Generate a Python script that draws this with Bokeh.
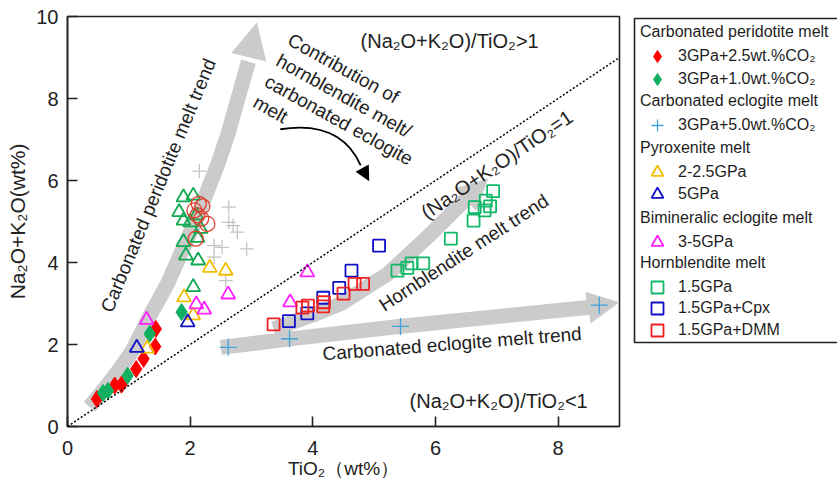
from bokeh.plotting import figure
from bokeh.layouts import row
from bokeh.models import (Legend, LegendItem, Slope, Arrow, NormalHead,
                          Range1d, FixedTicker)
from bokeh.core.properties import value
from bokeh.embed import file_html
from bokeh.resources import INLINE

FONT = "Liberation Sans"

# ---------------- data (TiO2 wt%, Na2O+K2O wt%) ----------------
# Carbonated peridotite melt
perid_25_x = [0.48, 0.77, 0.88, 1.12, 1.24, 1.43, 1.44]
perid_25_y = [0.67, 1.00, 1.02, 1.40, 1.65, 1.95, 2.38]
perid_10_x = [0.58, 0.66, 0.98, 1.34, 1.86]
perid_10_y = [0.82, 0.87, 1.24, 2.26, 2.79]
# Carbonated eclogite melt
eclog_x = [2.62, 3.62, 5.43, 8.67]
eclog_y = [1.93, 2.14, 2.44, 2.96]
# Pyroxenite melt
pyx_lo_x = [1.30, 1.90, 2.05, 2.32, 2.58]
pyx_lo_y = [1.90, 3.15, 2.71, 3.87, 3.80]
pyx_hi_x = [1.13, 1.96]
pyx_hi_y = [1.92, 2.54]
# Bimineralic eclogite melt
bimin_x = [1.29, 2.10, 2.23, 2.62, 3.91, 3.63]
bimin_y = [2.60, 2.98, 2.85, 3.22, 3.76, 3.03]
# Hornblendite melt
hbl_x = [5.38, 5.54, 5.61, 5.80, 6.25, 6.62, 6.64, 6.80, 6.89, 6.94, 6.82]
hbl_y = [3.80, 3.87, 3.98, 3.98, 4.58, 5.02, 5.35, 5.27, 5.37, 5.74, 5.51]
hbl_cpx_x = [3.61, 3.91, 4.17, 4.43, 4.63, 5.08]
hbl_cpx_y = [2.57, 2.76, 3.14, 3.38, 3.80, 4.41]
hbl_dmm_x = [3.36, 3.83, 3.92, 4.17, 4.18, 4.50, 4.68, 4.82]
hbl_dmm_y = [2.49, 2.90, 2.95, 2.93, 3.03, 3.24, 3.48, 3.48]
# other data (not in visible legend)
gtri_x = [1.89, 2.05, 1.82, 1.89, 2.00, 2.17, 2.12, 1.89, 1.93, 2.13, 2.05, 2.10]
gtri_y = [5.59, 5.63, 5.23, 5.02, 4.98, 4.82, 4.60, 4.50, 4.17, 4.05, 3.40, 5.15]
rcirc_x = [2.14, 2.07, 2.12, 2.18, 2.28, 2.09, 2.20]
rcirc_y = [5.43, 5.27, 5.15, 5.07, 4.94, 4.58, 5.37]
gcross_x = [2.15, 2.63, 2.63, 2.70, 2.77, 2.92, 2.52, 2.39, 2.58, 2.39]
gcross_y = [6.23, 5.35, 4.98, 4.90, 4.74, 4.33, 4.37, 4.13, 3.56, 4.41]

x_ticks = [0, 2, 4, 6, 8]
y_ticks = [0, 2, 4, 6, 8, 10]

# ---------------- trend bands (annotation paths) ----------------
perid_band_x = [0.36, 0.62, 0.85, 1.06, 1.33, 1.63, 1.87, 2.08, 2.27, 2.45, 2.62, 2.77, 2.95]
perid_band_y = [0.48, 0.95, 1.40, 1.85, 2.67, 3.48, 4.29, 5.00, 5.70, 6.40, 7.15, 7.95, 8.90]
perid_head = (2.93, 8.85, 3.09, 9.86)
hbl_band_x = [3.36, 4.00, 4.45, 5.22, 5.87, 6.55]
hbl_band_y = [2.38, 2.72, 2.99, 3.72, 4.62, 5.63]
hbl_head = (6.45, 5.48, 6.86, 6.05)
ecl_band_x = [2.50, 3.60, 5.40, 7.00, 8.60]
ecl_band_y = [1.93, 2.13, 2.44, 2.68, 2.92]
ecl_head = (8.45, 2.89, 9.00, 3.03)
curve_pts = (3.47, 7.25, 4.45, 7.48, 4.78, 6.37)
curve_head = (4.78, 6.37, 4.92, 5.98)

BAND = "#cbcbcb"
TXT = "#1e1e1e"

STY = {
    "gcross": dict(marker="cross", size=14, line_color="#c4c4c4", line_width=1.3),
    "gtri": dict(marker="triangle", size=14, fill_alpha=0, line_color="#10a850", line_width=1.8),
    "rcirc": dict(marker="circle", size=15, fill_alpha=0, line_color="#e0402e", line_width=1.3),
    "p25": dict(marker="diamond", size=17, fill_color="#ff0000", line_color="#ff0000"),
    "p10": dict(marker="diamond", size=17, fill_color="#10b060", line_color="#10b060"),
    "ecl": dict(marker="cross", size=17, line_color="#3fa3d8", line_width=1.3),
    "pyl": dict(marker="triangle", size=14, fill_alpha=0, line_color="#f2be00", line_width=1.8),
    "pyh": dict(marker="triangle", size=14, fill_alpha=0, line_color="#1010c8", line_width=1.8),
    "bim": dict(marker="triangle", size=14, fill_alpha=0, line_color="#ff20ff", line_width=1.8),
    "hbl": dict(marker="square", size=12, fill_alpha=0, line_color="#10b868", line_width=1.8),
    "cpx": dict(marker="square", size=12, fill_alpha=0, line_color="#1010c8", line_width=1.8),
    "dmm": dict(marker="square", size=12, fill_alpha=0, line_color="#f02020", line_width=1.8),
}
SERIES = {
    "p25": (perid_25_x, perid_25_y), "p10": (perid_10_x, perid_10_y),
    "ecl": (eclog_x, eclog_y), "pyl": (pyx_lo_x, pyx_lo_y), "pyh": (pyx_hi_x, pyx_hi_y),
    "bim": (bimin_x, bimin_y), "hbl": (hbl_x, hbl_y), "cpx": (hbl_cpx_x, hbl_cpx_y),
    "dmm": (hbl_dmm_x, hbl_dmm_y),
}

TOP, BOT = 16, 55
p = figure(width=632, height=481, x_range=Range1d(0, 9), y_range=Range1d(0, 10),
           output_backend="svg", toolbar_location=None,
           min_border_left=67, min_border_right=13, min_border_top=TOP,
           min_border_bottom=BOT, background_fill_color="white",
           border_fill_color="white")
p.grid.visible = False
p.outline_line_color = "#222222"
p.outline_line_width = 1.6

p.xaxis.ticker = FixedTicker(ticks=x_ticks)
p.yaxis.ticker = FixedTicker(ticks=y_ticks)
for ax in (p.xaxis[0], p.yaxis[0]):
    ax.major_tick_in = 10
    ax.major_tick_out = 0
    ax.minor_tick_in = 0
    ax.minor_tick_out = 0
    ax.axis_line_width = 1.6
    ax.axis_line_color = "#222222"
    ax.major_tick_line_width = 1.6
    ax.major_tick_line_color = "#222222"
    ax.major_label_text_font = FONT
    ax.major_label_text_font_size = "20px"
    ax.major_label_text_color = "#222222"
    ax.axis_label_text_font = FONT
    ax.axis_label_text_font_style = "normal"
    ax.axis_label_text_color = "#222222"
p.xaxis.major_label_standoff = 14
p.yaxis.major_label_standoff = 9
p.xaxis.axis_label = "TiO₂（wt%）"
p.xaxis.axis_label_text_font_size = "19px"
p.xaxis.axis_label_standoff = 0
p.yaxis.axis_label = "Na₂O+K₂O(wt%)"
p.yaxis.axis_label_text_font_size = "21px"
p.yaxis.axis_label_standoff = 4

# trend bands
for bx, by, hd, sz in ((perid_band_x, perid_band_y, perid_head, 36),
                       (hbl_band_x, hbl_band_y, hbl_head, 31),
                       (ecl_band_x, ecl_band_y, ecl_head, 32)):
    p.line(bx, by, line_width=15, line_color=BAND, line_join="round", line_cap="butt")
    p.add_layout(Arrow(end=NormalHead(size=sz, fill_color=BAND, line_color=BAND, line_width=0),
                       x_start=hd[0], y_start=hd[1], x_end=hd[2], y_end=hd[3],
                       line_alpha=0, level="underlay"))

# 1:1 line
p.add_layout(Slope(gradient=1, y_intercept=0, line_color="black", line_dash="2 2",
                   line_width=1.5))

# curved arrow
p.quadratic(x0=[curve_pts[0]], y0=[curve_pts[1]], cx=[curve_pts[2]], cy=[curve_pts[3]],
            x1=[curve_pts[4]], y1=[curve_pts[5]], line_color="black", line_width=1.8)
p.add_layout(Arrow(end=NormalHead(size=15, fill_color="black", line_color="black", line_width=0),
                   x_start=curve_head[0], y_start=curve_head[1],
                   x_end=curve_head[2], y_end=curve_head[3], line_alpha=0))

# markers
p.scatter(gcross_x, gcross_y, **STY["gcross"])
p.scatter(gtri_x, gtri_y, **STY["gtri"])
p.scatter(rcirc_x, rcirc_y, **STY["rcirc"])
for key in ("p25", "p10", "ecl", "pyl", "pyh", "bim", "hbl", "cpx", "dmm"):
    sx, sy = SERIES[key]
    p.scatter(sx, sy, **STY[key])

# texts
def txt(x, y, s, ang, size="19px", align="center", baseline="middle", lh=1.2):
    p.text(x=[x], y=[y], text=[s], angle=ang, angle_units="deg",
           text_font=value(FONT), text_font_size=size, text_color=TXT,
           text_align=align, text_baseline=baseline, text_line_height=lh)

txt(1.48, 5.88, "Carbonated peridotite melt trend", 67.5)
txt(6.46, 4.24, "Hornblendite melt trend", 33)
txt(6.27, 2.02, "Carbonated eclogite melt trend", 4.5)
txt(6.23, 9.41, "(Na₂O+K₂O)/TiO₂>1", 0, size="20px")
txt(7.03, 0.63, "(Na₂O+K₂O)/TiO₂<1", 0, size="20px")
txt(7.00, 6.39, "(Na₂O+K₂O)/TiO₂=1", 34, size="20px")
txt(3.70, 9.69, "Contribution of\nhornblendite melt/\ncarbonated eclogite\nmelt", -29,
    align="left", baseline="top", lh=1.13)

# ---------------- legend panel ----------------
LW = 205
FRAME_BOTTOM = 481 - BOT          # canvas y of frame bottom
FH = FRAME_BOTTOM - TOP           # frame height
X0 = 100                          # offset so that series data lie outside this panel
q = figure(width=LW, height=481, x_range=Range1d(X0, X0 + LW), y_range=Range1d(0, FH),
           output_backend="svg", toolbar_location=None,
           x_axis_location=None, y_axis_location=None,
           min_border_left=0, min_border_right=0, min_border_top=TOP,
           min_border_bottom=BOT, outline_line_color=None,
           background_fill_color="white", border_fill_color="white")
q.grid.visible = False
# legend box (canvas px: left 634, top 18, bottom 342; right edge runs off the page)
q.quad(left=[X0 + 2], right=[X0 + LW + 60], bottom=[FRAME_BOTTOM - 342],
       top=[FRAME_BOTTOM - 18], fill_alpha=0, line_color="#222222", line_width=1.6)

proxies = {}
for key in SERIES:
    sx, sy = SERIES[key]
    proxies[key] = q.scatter(sx, sy, **STY[key])

# (header, [(label, key, row centre y in canvas px)], header centre y)
groups = [
    ("Carbonated peridotite melt", [("3GPa+2.5wt.%CO₂", "p25", 56.7), ("3GPa+1.0wt.%CO₂", "p10", 79.0)], 31.7),
    ("Carbonated eclogite melt", [("3GPa+5.0wt.%CO₂", "ecl", 122.7)], 100.5),
    ("Pyroxenite melt", [("2-2.5GPa", "pyl", 172.7), ("5GPa", "pyh", 193.5)], 147.7),
    ("Bimineralic eclogite melt", [("3-5GPa", "bim", 240.5)], 218.0),
    ("Hornblendite melt", [("1.5GPa", "hbl", 285.0), ("1.5GPa+Cpx", "cpx", 308.0), ("1.5GPa+DMM", "dmm", 330.0)], 263.0),
]
TITLE_H = 18
GH = 30
GW = 34
LX = 640 - 632

def add_legend(items, bottom_y, title=None):
    kw = dict(items=items, location=(LX, FRAME_BOTTOM - bottom_y), padding=0, margin=0,
              spacing=0, glyph_width=GW, glyph_height=GH, label_height=20,
              label_standoff=4, label_text_font=FONT, label_text_font_size="16px",
              label_text_color=TXT, border_line_alpha=0, background_fill_alpha=0)
    if title is not None:
        kw.update(title=title, title_standoff=0, title_text_font=FONT,
                  title_text_font_size="16px", title_text_font_style="normal",
                  title_text_color=TXT)
    q.add_layout(Legend(**kw))

for header, its, hy in groups:
    lab, key, cy = its[0]
    top = hy - TITLE_H / 2
    add_legend([LegendItem(label=lab, renderers=[proxies[key]])],
               top + TITLE_H + GH, title=header)
    for lab, key, cy in its[1:]:
        add_legend([LegendItem(label=lab, renderers=[proxies[key]])], cy + GH / 2)

layout = row(p, q)
open("out.html", "w").write(file_html(layout, INLINE))
